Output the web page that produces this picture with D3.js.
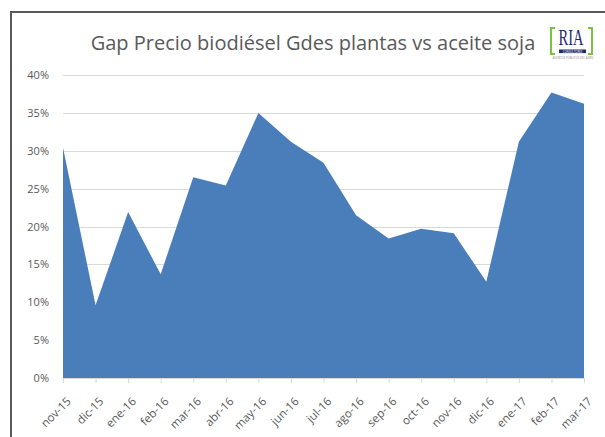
<!DOCTYPE html>
<html>
<head>
<meta charset="utf-8">
<style>
body{
    margin:0;
    background:#fff;
}
svg text{
    font-family:"Open Sans", "Liberation Sans", sans-serif;
    fill:#595959;
}
</style>
<title>Gap Precio biodiésel Gdes plantas vs aceite soja</title>
</head>
<body>
<svg id="chart" width="605" height="437"></svg>
<script src="https://cdnjs.cloudflare.com/ajax/libs/d3/7.8.5/d3.min.js"></script>
<script>
// months on the x axis
var months = ['nov-15','dic-15','ene-16','feb-16','mar-16','abr-16','may-16','jun-16','jul-16',
              'ago-16','sep-16','oct-16','nov-16','dic-16','ene-17','feb-17','mar-17'];
// gap values (fraction)
var gap = [0.304, 0.096, 0.219, 0.137, 0.265, 0.254, 0.350, 0.312, 0.284,
           0.215, 0.184, 0.197, 0.191, 0.127, 0.312, 0.377, 0.362];
var yTicks = [0, 0.05, 0.10, 0.15, 0.20, 0.25, 0.30, 0.35, 0.40];
var title = 'Gap Precio biodiésel Gdes plantas vs aceite soja';

var svg = d3.select('#chart');

// outer frame (only top and left visible)
svg.append('path')
    .attr('d', 'M11,437 V12 H605')
    .attr('fill', 'none')
    .attr('stroke', '#595959')
    .attr('stroke-width', 2);

var x = d3.scalePoint().domain(months).range([63, 584]);
var y = d3.scaleLinear().domain([0, 0.4]).range([378, 75]);

// gridlines
svg.append('g').selectAll('line').data(yTicks.slice(1)).enter().append('line')
    .attr('x1', 63).attr('x2', 584)
    .attr('y1', function(d){ return Math.round(y(d)) + 0.5; })
    .attr('y2', function(d){ return Math.round(y(d)) + 0.5; })
    .attr('stroke', '#d9d9d9');

// area
var area = d3.area()
    .x(function(d, i){ return x(months[i]); })
    .y0(y(0))
    .y1(function(d){ return y(d); });

svg.append('path')
    .datum(gap)
    .attr('d', area)
    .attr('fill', '#4a7ebb');

// y axis labels
var yAxis = d3.axisLeft(y).tickValues(yTicks).tickSize(0).tickPadding(0)
    .tickFormat(d3.format('.0%'));
var gy = svg.append('g').attr('transform', 'translate(49,0)').call(yAxis);
gy.select('.domain').remove();
gy.selectAll('text').attr('font-size', 11).attr('font-family', null).style('fill', '#595959');

// x axis
var xAxis = d3.axisBottom(x).tickSize(5).tickSizeOuter(0).tickPadding(4);
var gx = svg.append('g').attr('transform', 'translate(0,' + y(0) + ')').call(xAxis);
gx.select('.domain').attr('stroke', '#d9d9d9').attr('d', 'M63,0.5H584');
gx.selectAll('.tick line').attr('stroke', '#d9d9d9');
gx.selectAll('text')
    .attr('font-size', 11.5).attr('font-family', null).style('fill', '#595959')
    .attr('text-anchor', 'end')
    .attr('dy', '0.35em')
    .attr('transform', 'translate(-1,15) rotate(-45)');

// title
svg.append('text')
    .attr('x', 313).attr('y', 50)
    .attr('text-anchor', 'middle')
    .attr('font-size', 20)
    .text(title);

// logo
var logo = svg.append('g').attr('transform', 'translate(550,28)');
logo.append('path').attr('d', 'M5,0 H1 V26 H5').attr('fill', 'none')
    .attr('stroke', '#7cc242').attr('stroke-width', 2);
logo.append('path').attr('d', 'M38,0 H42 V26 H38').attr('fill', 'none')
    .attr('stroke', '#7cc242').attr('stroke-width', 2);
logo.append('text').attr('x', 21).attr('y', 17).attr('text-anchor', 'middle')
    .attr('font-size', 24).attr('textLength', 25).attr('lengthAdjust', 'spacingAndGlyphs')
    .style('font-family', '"Liberation Serif", serif')
    .style('fill', '#1f2a6b').text('RIA');
logo.append('rect').attr('x', 9).attr('y', 21.5).attr('width', 27).attr('height', 3.6)
    .attr('fill', '#1f2a6b');
logo.append('text').attr('x', 22.5).attr('y', 24.6).attr('text-anchor', 'middle')
    .attr('font-size', 2.8).style('fill', '#fff').text('CONSULTORES');
logo.append('text').attr('x', 23).attr('y', 30.5).attr('text-anchor', 'middle')
    .attr('font-size', 2.8).style('fill', '#888').text('ASUNTOS PUBLICOS DEL AGRO');
</script>
</body>
</html>
